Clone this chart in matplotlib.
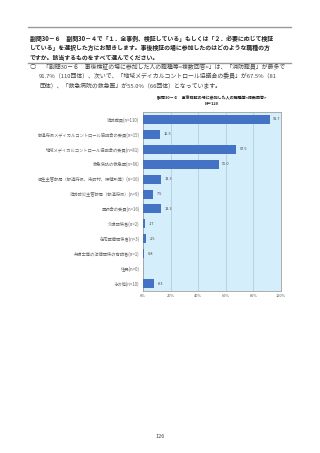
import matplotlib
matplotlib.use("Agg")
import matplotlib.pyplot as plt
from matplotlib.lines import Line2D

plt.rcParams['font.family'] = ['Noto Sans CJK JP', 'DejaVu Sans']

categories = [
    "消防職員(n=110)",
    "都道府県メディカルコントロール協議会の委員(n=15)",
    "地域メディカルコントロール協議会の委員(n=81)",
    "救急病院の救急医(n=66)",
    "衛生主管部局（都道府県、市町村、保健所等）(n=16)",
    "消防防災主管部局（都道府県）(n=9)",
    "医師会の委員(n=16)",
    "介護関係者(n=2)",
    "在宅医療関係者(n=3)",
    "弁護士等の法律関係の有識者(n=1)",
    "住民(n=0)",
    "その他(n=10)",
]
values = [91.7, 12.5, 67.5, 55.0, 13.3, 7.5, 13.3, 1.7, 2.5, 0.8, 0.0, 8.3]
tick_values = [0, 20, 40, 60, 80, 100]
tick_labels = ["0%", "20%", "40%", "60%", "80%", "100%"]

question_lines = [
    "副問30－６　副問30－４で「１．全事例、検証している」もしくは「２．必要に応じて検証",
    "している」を選択した方にお聞きします。事後検証の場に参加したのはどのような職種の方",
    "ですか。該当するものをすべて選んでください。",
]
answer_lines = [
    "「副問30－６　事後検証の場に参加した人の職種等<複数回答>」は、「消防職員」が最多で",
    "91.7%（110団体）、次いで、「地域メディカルコントロール協議会の委員」が67.5%（81",
    "団体）、「救急病院の救急医」が55.0%（66団体）となっています。",
]
chart_title = "副問30－６　事後検証の場に参加した人の職種等<複数回答>"
n_label = "N＝120"
page_no = "126"

W, H = 320, 453
fig = plt.figure(figsize=(W / 100, H / 100), dpi=100)

def px(x, y):
    return x / W, 1 - y / H

# question box with rules
for yy in [27, 63]:
    fig.add_artist(Line2D([px(28, 0)[0], px(291, 0)[0]], [px(0, yy)[1]] * 2,
                          color="#999999", lw=1.0))
for i, line in enumerate(question_lines):
    fig.text(*px(30, 38 + i * 9.6), line, fontsize=4.25, fontweight="bold",
             va="center", ha="left", color="#222222")

fig.text(*px(30, 67), "○", fontsize=4.6, va="center", ha="left", color="#444444")
fig.text(*px(43, 67), answer_lines[0], fontsize=4.25, va="center", ha="left", color="#444444")
fig.text(*px(39, 76.5), answer_lines[1], fontsize=4.25, va="center", ha="left", color="#444444")
fig.text(*px(39, 86), answer_lines[2], fontsize=4.25, va="center", ha="left", color="#444444")

fig.text(*px(212, 97.5), chart_title, fontsize=2.9, fontweight="bold",
         va="center", ha="center", color="#222222")
fig.text(*px(212, 104), n_label, fontsize=2.9, fontweight="bold",
         va="center", ha="center", color="#222222")

# bar chart
l, t, r, b = 143, 112, 281, 291
ax = fig.add_axes([l / W, 1 - b / H, (r - l) / W, (b - t) / H])
ax.set_facecolor("#D5EEFB")
ypos = list(range(len(categories)))
ax.barh(ypos, values, height=0.6, color="#4472C4", zorder=3)
for yv, v in zip(ypos, values):
    if v > 0:
        ax.text(v + 2.5, yv, f"{v:.1f}", fontsize=2.8, va="center", ha="left",
                color="#444444", zorder=4)
ax.set_xlim(0, 100)
ax.set_ylim(len(categories) - 0.5, -0.5)
ax.set_xticks(tick_values)
ax.set_xticklabels(tick_labels, fontsize=2.8, color="#555555")
ax.set_yticks(ypos)
ax.set_yticklabels(categories, fontsize=3.1, color="#666666")
ax.tick_params(length=0, pad=2.5)
ax.grid(axis="x", color="#A9C8DA", lw=0.5, zorder=1)
for s in ax.spines.values():
    s.set_color("#A0A0A0")
    s.set_linewidth(0.6)

fig.text(*px(160, 437), page_no, fontsize=4.0, va="center", ha="center", color="#444444")

fig.savefig("out.png", dpi=100)
